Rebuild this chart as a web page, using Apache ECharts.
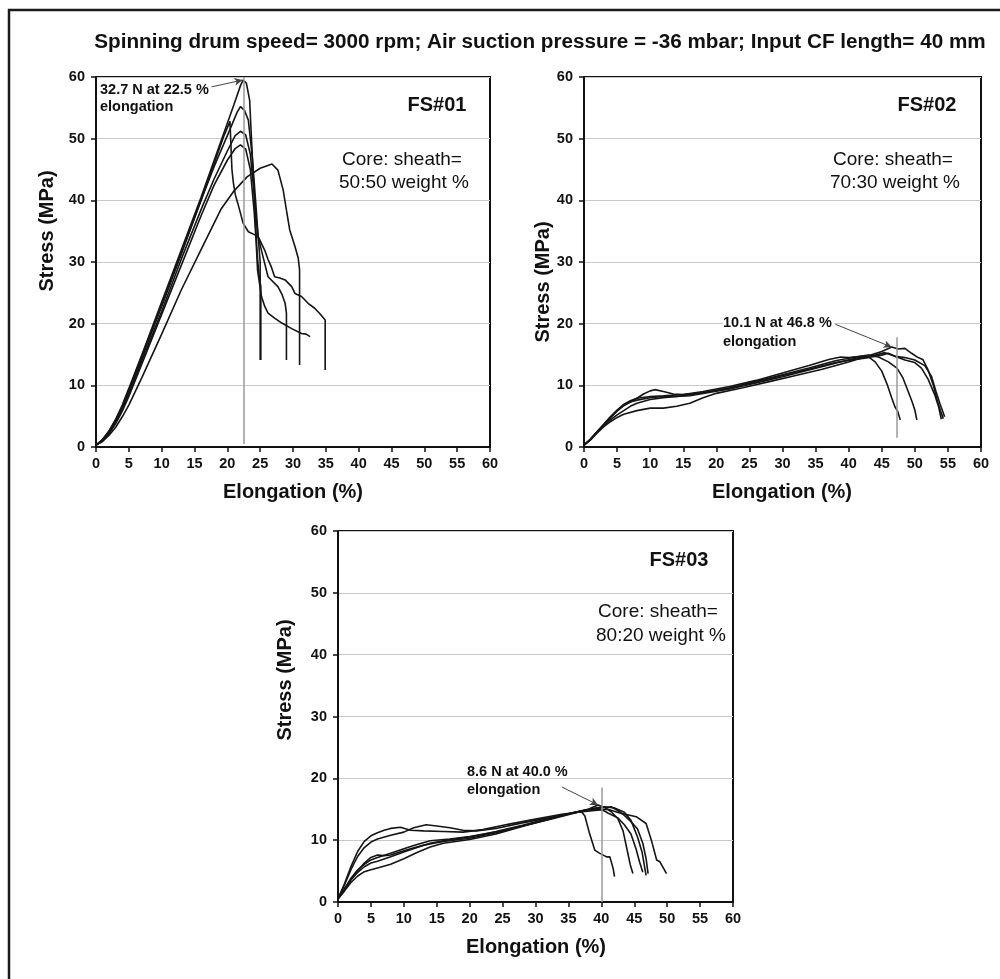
<!DOCTYPE html>
<html>
<head>
<meta charset="utf-8">
<title>Stress-elongation curves FS#01-FS#03</title>
<script src="https://cdn.jsdelivr.net/npm/echarts@6/dist/echarts.min.js"></script>
<style>
  html, body { margin: 0; padding: 0; background: #fff; }
  #chart { width: 1000px; height: 979px; }
</style>
</head>
<body>
<div id="chart"></div>
<script>
// Tensile curves, stress (MPa) vs elongation (%), one array per specimen.
// FS#01 — core:sheath 50:50
const fs01_a = [[0,0.3],[1,1.2],[2,2.6],[3,4.5],[4,6.8],[5,9.5],[7,15],[10,23.5],[13,32],[16,40.5],[19,49.5],[21,55.5],[22,58.6],[22.4,59.5],[22.9,59],[23.4,56.2],[23.9,45],[24.5,32],[24.8,28],[25.1,26],[25.1,14.1]];
const fs01_b = [[0,0.3],[1,1.2],[2,2.6],[3,4.4],[4,6.6],[5,9.2],[7,14.8],[10,23],[13,31.5],[16,40],[18,45.5],[20,50.5],[21.5,54.3],[22,55.2],[22.6,54.6],[23.2,53],[23.8,47],[24.3,40],[24.7,34],[25,30],[25,14.1]];
const fs01_c = [[0,0.3],[1,1.1],[2,2.5],[3,4.3],[4,6.5],[5,9],[7,14.5],[10,22.8],[13,31.3],[16,40],[18,46],[19.5,50.5],[20.4,52.8],[20.6,52.5],[20.7,45],[20.9,43],[21.2,41],[21.4,40.2],[21.6,39.5],[21.8,39.8],[22.4,36.3],[23.2,34.9],[24.2,34.4],[24.7,34.1],[25.7,31.9],[26.2,30.4],[26.7,29.2],[27.2,27.6],[28,27.4],[28.8,27.1],[29.8,26],[30.3,24.9],[31.3,24.4],[32.3,23.3],[33.3,22.5],[34.1,21.6],[34.9,20.6],[34.9,12.5]];
const fs01_d = [[0,0.3],[1,1],[2,2.3],[3,4],[4,6.1],[5,8.6],[7,14],[10,22],[13,30.5],[16,38.5],[18,43.5],[20,48],[21.2,50.5],[22,51.2],[22.8,50.6],[23.5,47.5],[24,42],[24.4,37],[24.7,34.1],[25.4,31],[26.2,27.6],[27.7,26],[28.3,24.8],[28.8,23.3],[29,21.7],[29,14.1]];
const fs01_e = [[0,0.3],[1,1],[2,2.2],[3,3.8],[4,5.8],[5,8.2],[7,13.5],[10,21.5],[13,29.5],[16,37.5],[18,42.5],[20,46.5],[21.2,48.4],[22,49],[22.8,48.3],[23.5,45],[24.1,38],[24.4,33],[24.6,28.7],[25.2,24.4],[25.7,22.8],[26.2,21.7],[27.2,20.9],[28.3,20.1],[29.8,19.2],[31.3,18.4],[32,18.3],[32.6,17.9]];
const fs01_f = [[0,0.3],[1,0.9],[2,1.9],[3,3.2],[4,4.9],[5,6.8],[7,11.3],[10,18.3],[13,25.5],[16,32],[19,38.5],[21,41.5],[23,43.8],[25,45.2],[26.8,45.9],[27.7,44.9],[28.5,41.7],[29,38.4],[29.5,35.2],[30.3,32.5],[30.8,30.6],[31,28.7],[31,13.3]];

// FS#02 — core:sheath 70:30
const fs02_a = [[0,0.3],[1,1.3],[2,2.5],[3,3.7],[4,4.9],[5,6],[6,6.9],[7,7.5],[8,7.9],[10,8.2],[12,8.3],[15,8.5],[18,9],[22,9.8],[26,10.8],[30,12],[34,13.2],[37,14.2],[38.8,14.6],[40,14.5],[42,14.7],[43,14.6],[44,13.8],[45,12.3],[45.8,10.2],[46.5,8],[47,6.5],[47.4,5.8],[47.8,4.4]];
const fs02_b = [[0,0.3],[1,1.3],[2,2.5],[3,3.6],[4,4.7],[5,5.8],[6,6.7],[7,7.3],[8,7.9],[9,8.6],[10,9.1],[10.7,9.3],[12,9],[13.5,8.6],[15,8.5],[18,8.8],[22,9.5],[26,10.6],[30,11.7],[34,12.8],[38,14],[41,14.6],[43,14.9],[44.5,14.6],[46,13.8],[47.3,12.8],[48.2,11.2],[49,9],[49.6,7.3],[50,6],[50.3,4.4]];
const fs02_c = [[0,0.3],[1,1.2],[2,2.3],[3,3.3],[4,4.1],[5,4.8],[6,5.3],[8,5.9],[10,6.3],[12,6.3],[14,6.6],[16,7.1],[18,8],[20,8.7],[24,9.6],[28,10.6],[32,11.6],[36,12.6],[40,13.8],[43,14.8],[45,15.5],[46.5,16.2],[47.5,15.9],[48.5,16],[49.5,15.2],[50.5,14.5],[51.2,14.2],[52,12.5],[52.8,10],[53.4,7.5],[53.9,5.8],[54.3,4.6]];
const fs02_d = [[0,0.3],[1,1.2],[2,2.4],[3,3.5],[4,4.4],[5,5.2],[6,5.9],[7,6.6],[8,7.1],[10,7.7],[12,8],[14,8.2],[16,8.3],[18,8.7],[22,9.4],[26,10.4],[30,11.4],[34,12.5],[38,13.6],[41,14.4],[44,14.9],[45.5,15.3],[47,14.7],[48.5,14.1],[50,13.7],[51,12.8],[52,11],[53,8.5],[53.6,6.5],[54,4.5]];
const fs02_e = [[0,0.3],[1,1.3],[2,2.5],[3,3.7],[4,4.9],[5,5.9],[6,6.8],[7,7.3],[8,7.6],[10,8],[12,8.2],[14,8.2],[16,8.5],[18,8.8],[22,9.6],[26,10.6],[30,11.6],[34,12.6],[38,13.7],[41,14.2],[43,14.5],[45,14.9],[46,15.2],[47,14.7],[48.5,14.5],[50,14.1],[51.5,13.2],[52.5,11.5],[53.2,9],[53.8,7],[54.5,4.9]];

// FS#03 — core:sheath 80:20
const fs03_a = [[0,0.5],[1,3],[2,5.8],[3,8.2],[4,9.8],[5,10.7],[6,11.2],[7,11.6],[8,11.9],[9.5,12.1],[11,11.6],[13,11.5],[16,11.4],[19,11.3],[22,11.7],[26,12.6],[30,13.4],[34,14.2],[37,14.6],[37.5,13.9],[38.2,11.1],[39,8.4],[39.7,7.9],[40.8,7.3],[41.3,7.3],[41.8,5.4],[42,4.1]];
const fs03_b = [[0,0.5],[1,2.8],[2,5.3],[3,7.4],[4,8.8],[5,9.7],[6,10.2],[8,10.8],[10,11.3],[11.5,12],[13.4,12.5],[15,12.3],[17,12],[19,11.6],[21,11.5],[24,11.9],[28,12.8],[32,13.6],[36,14.5],[39,14.8],[41,15],[42.8,14.4],[45.3,13.8],[46.8,12.7],[47.6,10],[48.4,6.8],[48.9,6.5],[49.9,4.6]];
const fs03_c = [[0,0.5],[1,2],[2,3.7],[3,5.1],[4,6.3],[5,7.2],[6,7.6],[7,7.5],[8,7.6],[10,8.3],[13,9.2],[16,9.8],[20,10.3],[24,11.2],[28,12.3],[32,13.4],[36,14.5],[39,15.2],[40.5,15.4],[42,15.2],[43.5,14.5],[44.5,13.2],[45.5,10.5],[46.2,8],[46.8,4.3]];
const fs03_d = [[0,0.5],[1,1.8],[2,3.2],[3,4.2],[4,4.9],[5,5.2],[6,5.5],[8,6.1],[10,7],[12,8],[14,8.9],[16,9.5],[20,10.1],[24,11],[28,12.2],[32,13.4],[36,14.5],[38,15],[39.5,15.7],[40.5,15.3],[41.5,14.6],[42.5,13.5],[43.3,11.5],[44,8],[44.4,6],[44.8,4.6]];
const fs03_e = [[0,0.5],[1,2.2],[2,3.9],[3,5.2],[4,6.1],[5,6.8],[6,7.2],[8,7.9],[10,8.6],[12,9.3],[14,9.9],[17,10.2],[20,10.6],[24,11.3],[28,12.3],[32,13.3],[36,14.4],[38.5,15],[40,15.2],[41.5,15.4],[42.5,14.8],[43.5,14],[44.5,13],[45.5,11.8],[46.3,9.5],[46.8,7],[47.1,4.6]];
const fs03_f = [[0,0.5],[1,2.1],[2,3.6],[3,4.8],[4,5.7],[5,6.3],[6,6.6],[8,7.3],[10,8.1],[12,8.8],[14,9.5],[17,10.1],[20,10.5],[24,11.4],[28,12.4],[32,13.5],[36,14.5],[38,14.9],[40,15],[41,14.4],[42.5,13.6],[43.5,12.5],[44.5,11],[45.3,8.5],[45.8,6.5],[46.3,4.8]];

// Peak markers: label text, arrow start, peak point, vertical guide [x, yFrom, yTo]
const peakLabels = ['32.7 N at 22.5 %', '10.1 N at 46.8 %', '8.6 N at 40.0 %'];
const arrowFrom = [[17.6, 58.4], [38.0, 19.9], [34.0, 18.6]];
const arrowTo = [[22.3, 59.5], [46.5, 16.2], [39.5, 15.7]];
const guides = [[22.5, 0.5, 60], [47.2, 1.5, 17.8], [40.0, 0, 18.5]];

const panelNames = ['FS#01', 'FS#02', 'FS#03'];
const ratios = ['50:50 weight %', '70:30 weight %', '80:20 weight %'];
const panelCurves = [
  [fs01_a, fs01_b, fs01_c, fs01_d, fs01_e, fs01_f],
  [fs02_a, fs02_b, fs02_c, fs02_d, fs02_e],
  [fs03_a, fs03_b, fs03_c, fs03_d, fs03_e, fs03_f]
];

const FONT = '"Liberation Sans", Arial, Helvetica, sans-serif';
const grids = [
  { left: 96, top: 77, width: 394, height: 370 },
  { left: 584, top: 77, width: 397, height: 370 },
  { left: 338, top: 531, width: 395, height: 371 }
];

const chart = echarts.init(document.getElementById('chart'), null, { renderer: 'canvas' });

const xAxes = [], yAxes = [], series = [];
grids.forEach((g, i) => {
  xAxes.push({
    gridIndex: i, type: 'value', min: 0, max: 60, interval: 5,
    axisLine: { lineStyle: { color: '#111', width: 2 } },
    axisTick: { inside: false, length: 5, lineStyle: { color: '#111', width: 1.5 } },
    axisLabel: { margin: 9, color: '#111', fontFamily: FONT, fontWeight: 'bold', fontSize: 14.5 },
    splitLine: { show: false }
  });
  yAxes.push({
    gridIndex: i, type: 'value', min: 0, max: 60, interval: 10,
    axisLine: { show: true, lineStyle: { color: '#111', width: 2 } },
    axisTick: { show: true, inside: false, length: 5, lineStyle: { color: '#111', width: 1.5 } },
    axisLabel: { margin: 11, color: '#111', fontFamily: FONT, fontWeight: 'bold', fontSize: 14.5 },
    splitLine: { show: true, lineStyle: { color: '#c9c9c9', width: 1.2 } }
  });
  panelCurves[i].forEach((curve) => {
    series.push({
      type: 'line', xAxisIndex: i, yAxisIndex: i, data: curve,
      showSymbol: false, symbol: 'none', silent: true,
      lineStyle: { color: '#151515', width: 1.6 },
      z: 3
    });
  });
  // vertical guide at the marked peak
  series.push({
    type: 'line', xAxisIndex: i, yAxisIndex: i, data: [], silent: true, z: 2,
    markLine: {
      silent: true, animation: false, symbol: 'none', label: { show: false },
      lineStyle: { color: '#9a9a9a', width: 1.5, type: 'solid' },
      data: [[{ coord: [guides[i][0], guides[i][1]] }, { coord: [guides[i][0], guides[i][2]] }]]
    }
  });
  // arrow from the label to the peak
  series.push({
    type: 'line', xAxisIndex: i, yAxisIndex: i, data: [], silent: true, z: 4,
    markLine: {
      silent: true, animation: false, symbol: ['none', 'arrow'], symbolSize: [6, 8],
      label: { show: false },
      lineStyle: { color: '#444', width: 1, type: 'solid' },
      data: [[{ coord: arrowFrom[i] }, { coord: arrowTo[i] }]]
    }
  });
});

const boldText = (x, y, text, size, align, rot, bg) => ({
  type: 'text', x: x, y: y, rotation: rot || 0, z: 10,
  style: {
    text: text, fill: '#111', font: 'bold ' + size + 'px ' + FONT,
    align: align || 'center', verticalAlign: 'middle',
    backgroundColor: bg || null, padding: bg ? [1, 2, 1, 0] : 0
  }
});
const plainText = (x, y, text, size) => ({
  type: 'text', x: x, y: y, z: 10,
  style: { text: text, fill: '#111', font: size + 'px ' + FONT, align: 'center', verticalAlign: 'middle' }
});

const graphics = [
  // outer frame
  { type: 'rect', shape: { x: 9, y: 10, width: 1010, height: 1000 }, style: { fill: 'none', stroke: '#1a1a1a', lineWidth: 2.5 }, z: 0 },
  boldText(540, 42, 'Spinning drum speed= 3000 rpm; Air suction pressure = -36 mbar; Input CF length= 40 mm', 20.7),
  // axis titles
  boldText(293, 492, 'Elongation (%)', 20),
  boldText(782, 492, 'Elongation (%)', 20),
  boldText(536, 947, 'Elongation (%)', 20),
  boldText(47, 231, 'Stress (MPa)', 20, 'center', Math.PI / 2),
  boldText(543, 282, 'Stress (MPa)', 20, 'center', Math.PI / 2),
  boldText(285, 680, 'Stress (MPa)', 20, 'center', Math.PI / 2),
  // panel names
  boldText(437, 105, panelNames[0], 20),
  boldText(927, 105, panelNames[1], 20),
  boldText(679, 560, panelNames[2], 20),
  // composition
  plainText(402, 160, 'Core: sheath=', 19), plainText(404, 183, ratios[0], 19),
  plainText(893, 160, 'Core: sheath=', 19), plainText(895, 183, ratios[1], 19),
  plainText(658, 612, 'Core: sheath=', 19), plainText(661, 636, ratios[2], 19),
  // peak labels
  boldText(100, 90, peakLabels[0], 14.5, 'left'), boldText(100, 107, 'elongation', 14.5, 'left'),
  boldText(723, 323, peakLabels[1], 14.5, 'left', 0, '#fff'), boldText(723, 342, 'elongation', 14.5, 'left'),
  boldText(467, 772, peakLabels[2], 14.5, 'left'), boldText(467, 790, 'elongation', 14.5, 'left')
];

chart.setOption({
  animation: false,
  backgroundColor: '#ffffff',
  grid: grids.map(g => Object.assign({ show: true, borderColor: '#111', borderWidth: 2, backgroundColor: 'rgba(0,0,0,0)', containLabel: false }, g)),
  xAxis: xAxes,
  yAxis: yAxes,
  series: series,
  graphic: graphics
});
</script>
</body>
</html>
